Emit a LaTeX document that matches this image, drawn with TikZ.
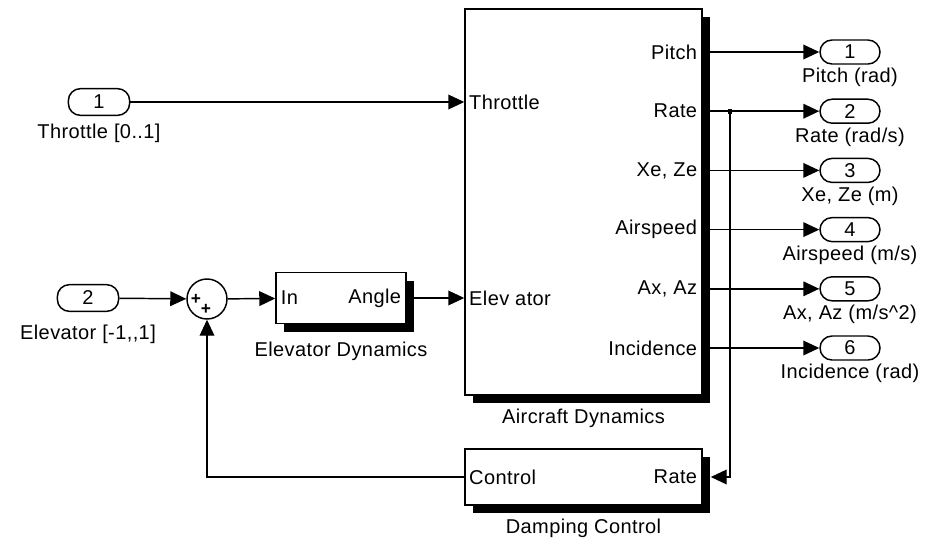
\documentclass[tikz,border=0pt]{standalone}
\usepackage{fontspec}
\setmainfont{Liberation Sans}[LetterSpace=2]
\usetikzlibrary{arrows.meta, positioning, shadows}

\begin{document}
\begin{tikzpicture}[
    x=0.75pt, y=-0.75pt,
    font=\fontsize{15pt}{17pt}\selectfont,
    inport/.style={
        rectangle, rounded corners=9pt, draw, line width=1.1pt, fill=white,
        minimum width=46pt, minimum height=20pt, inner sep=0pt
    },
    outport/.style={
        rectangle, rounded corners=9pt, draw, line width=1.1pt, fill=white,
        minimum width=45pt, minimum height=18pt, inner sep=0pt
    },
    block/.style={
        rectangle, draw, line width=1.1pt, fill=white, inner sep=0pt,
        general shadow={fill=black, shadow xshift=6pt, shadow yshift=-6pt}
    },
    sumnode/.style={circle, draw, line width=1.1pt, fill=white, minimum size=30pt, inner sep=0pt},
    caption/.style={inner sep=1pt},
    portlabel/.style={inner sep=0pt},
    sign/.style={inner sep=0pt, font=\fontsize{13pt}{13pt}\selectfont\bfseries},
    arrow/.style={draw, -{Triangle[length=12pt,width=11pt]}, line width=1.1pt},
    node distance=6pt
]
\useasboundingbox (0,0) rectangle (935,540);

% blocks
\node [block, minimum width=177.75pt, minimum height=289.5pt] (acft) at (583.5,202) {};
\node [caption, below=8.5pt of acft] (acftcap) {Aircraft Dynamics};
\node [block, minimum width=97.5pt, minimum height=38.25pt] (elev) at (341,298) {};
\node [caption, below=12pt of elev] (elevcap) {Elevator Dynamics};
\node [block, minimum width=177.75pt, minimum height=42pt] (damp) at (583.5,477) {};
\node [caption, below=9pt of damp] (dampcap) {Damping Control};
\node [sumnode] (sum) at (207,299) {};
\node [sign] (plusa) at (196,299) {+};
\node [sign] (plusb) at (206,309) {+};

% inputs
\node [inport] (in1) at (99,102) {1};
\node [caption, below=4.5pt of in1] (in1cap) {Throttle [0..1]};
\node [inport] (in2) at (88,298) {2};
\node [caption, below=8.5pt of in2] (in2cap) {Elevator [-1,{},1]};

% outputs
\node [outport] (out1) at (850,52) {1};
\node [caption, below=1.5pt of out1] (out1cap) {Pitch (rad)};
\node [outport] (out2) at (850,111.2) {2};
\node [caption, below=1.5pt of out2] (out2cap) {Rate (rad/s)};
\node [outport] (out3) at (850,170.4) {3};
\node [caption, below=1.5pt of out3] (out3cap) {Xe, Ze (m)};
\node [outport] (out4) at (850,229.6) {4};
\node [caption, below=1.5pt of out4] (out4cap) {Airspeed (m/s)};
\node [outport] (out5) at (850,288.8) {5};
\node [caption, below=1.5pt of out5] (out5cap) {Ax, Az (m/s\textasciicircum2)};
\node [outport] (out6) at (850,348) {6};
\node [caption, below=1.5pt of out6] (out6cap) {Incidence (rad)};

% port labels
\node [portlabel, anchor=west] (pthr) at ([xshift=3.5pt]acft.west |- in1) {Throttle};
\node [portlabel, anchor=west] (pele) at ([xshift=3.5pt]acft.west |- elev) {Elev ator};
\node [portlabel, anchor=east] (ppit) at ([xshift=-4pt]acft.east |- out1) {Pitch};
\node [portlabel, anchor=east] (prat) at ([xshift=-4pt]acft.east |- out2) {Rate};
\node [portlabel, anchor=east] (pxz) at ([xshift=-4pt]acft.east |- out3) {Xe, Ze};
\node [portlabel, anchor=east] (pair) at ([xshift=-4pt]acft.east |- out4) {Airspeed};
\node [portlabel, anchor=east] (paxz) at ([xshift=-4pt]acft.east |- out5) {Ax, Az};
\node [portlabel, anchor=east] (pinc) at ([xshift=-4pt]acft.east |- out6) {Incidence};
\node [portlabel, anchor=west] (pin) at ([xshift=4pt]elev.west) {In};
\node [portlabel, anchor=east] (pang) at ([xshift=-4pt]elev.east) {Angle};
\node [portlabel, anchor=west] (pctl) at ([xshift=3.5pt]damp.west) {Control};
\node [portlabel, anchor=east] (prte) at ([xshift=-4pt]damp.east) {Rate};

\node [fill, minimum size=3.5pt, inner sep=0pt] (tap) at (730,111.2) {};
\coordinate (dampin) at ([xshift=6pt]damp.east);

\draw [arrow] (in1)  -- (acft.west |- in1);
\draw [arrow] (in2)  -- (sum);
\draw [arrow] (sum)  -- (elev);
\draw [arrow] (elev) -- (acft.west |- elev);

\draw [arrow] (acft.east |- out1) -- (out1);
\draw [arrow] (acft.east |- out2) -- (out2);
\draw [arrow] (acft.east |- out3) -- (out3);
\draw [arrow] (acft.east |- out4) -- (out4);
\draw [arrow] (acft.east |- out5) -- (out5);
\draw [arrow] (acft.east |- out6) -- (out6);

\draw [arrow] (tap.center) |- (dampin);
\draw [arrow] (damp.west) -| (sum.south);
\end{tikzpicture}
\end{document}
